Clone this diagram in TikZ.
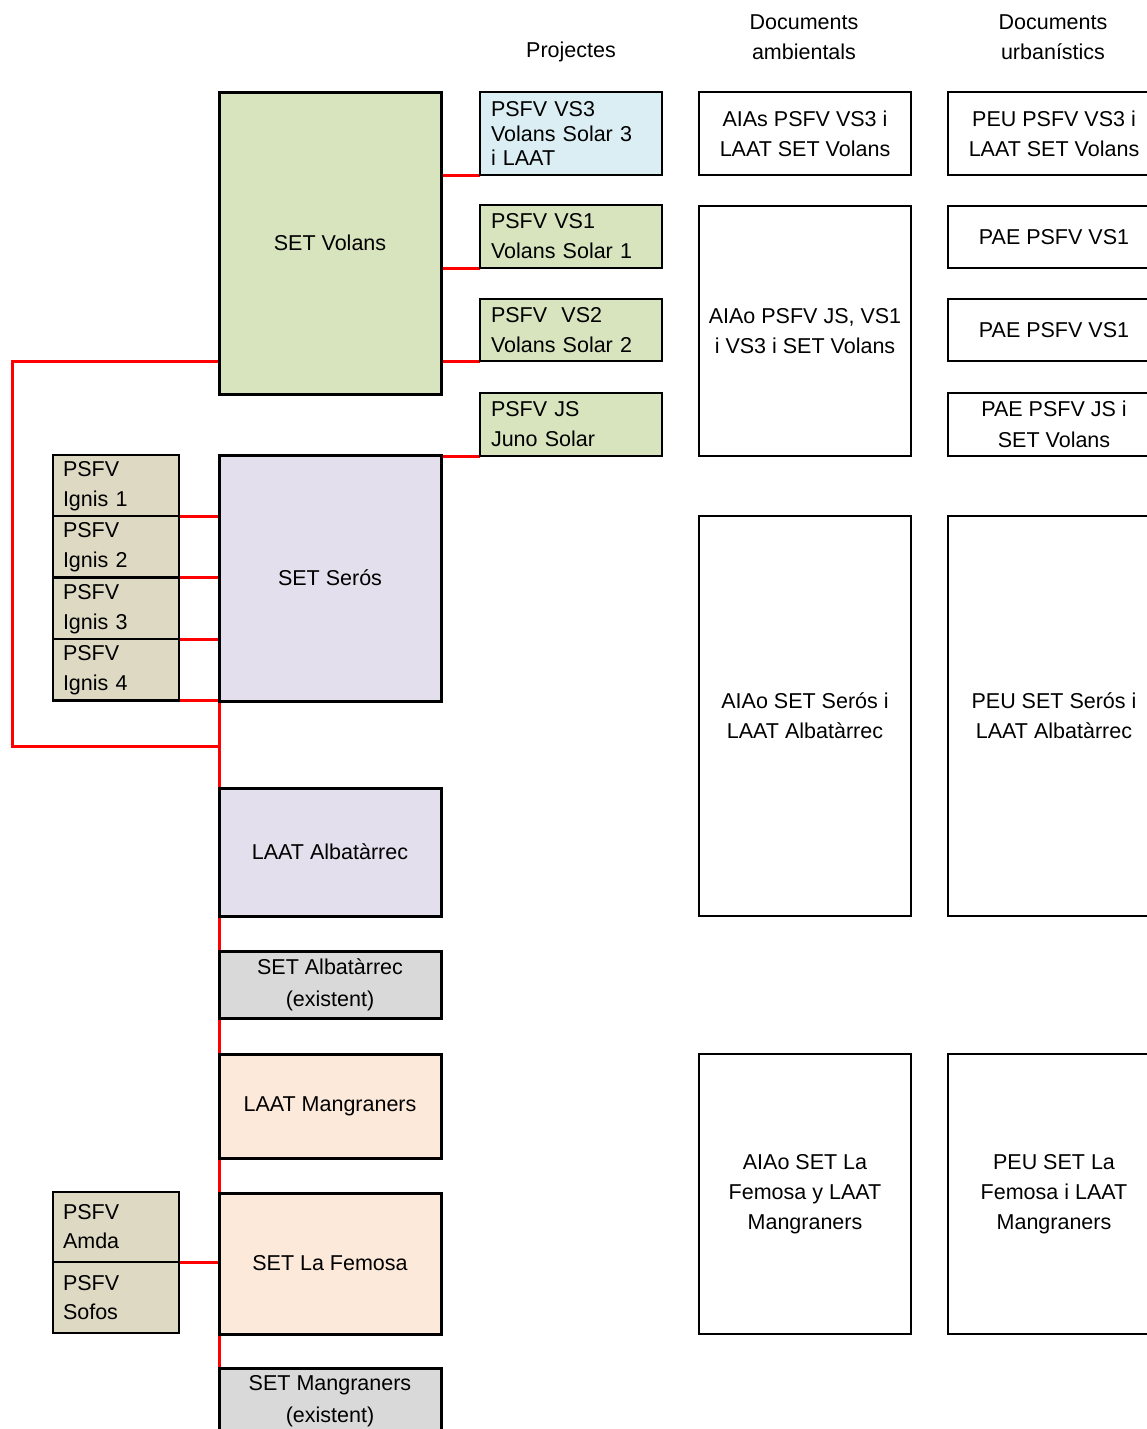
\documentclass[tikz,border=0pt]{standalone}
\usepackage{fontspec}
\setmainfont{Liberation Sans}
\usepackage{tikz}
\usetikzlibrary{positioning,backgrounds}
\definecolor{verd}{HTML}{D7E4BD}
\definecolor{blau}{HTML}{DBEEF4}
\definecolor{lila}{HTML}{E4DFEC}
\definecolor{terra}{HTML}{DDD9C3}
\definecolor{gris}{HTML}{D9D9D9}
\definecolor{preseg}{HTML}{FCE9DA}
\definecolor{vermell}{HTML}{FF0000}

\begin{document}
\begin{tikzpicture}[
    x=1pt, y=-1pt,
    caixa/.style={draw=black, line width=3pt, anchor=north west, inner sep=0pt, outer sep=0pt,
                  align=center, font=\fontsize{21.5}{30}\selectfont},
    setbox/.style={caixa, minimum width=222pt},
    proj/.style={caixa, line width=2.8pt, align=left, inner xsep=11pt, text width=160pt},
    psfv/.style={caixa, fill=terra, line width=2.4pt, align=left, inner xsep=10pt, text width=106pt},
    doc/.style={caixa, line width=2.8pt, minimum width=212pt},
    enllac/.style={draw=vermell, line width=3pt},
    titol/.style={font=\fontsize{21.5}{30}\selectfont, align=center}
]
\useasboundingbox (0,0) rectangle (1147,1429);
\clip (0,0) rectangle (1147,1429);

% capçaleres
\node[titol] (hproj) at (571,52) {Projectes};
\node[titol] (hamb) at (804,37) {Documents\\ambientals};
\node[titol] (hurb) at (1053,37) {Documents\\urbanístics};

% subestacions i línies
\node[setbox, fill=verd, minimum height=302pt] (volans) at (219,92) {SET Volans};
\node[setbox, fill=lila, minimum height=246pt] (seros) at (219,455) {SET Serós};
\node[setbox, fill=lila, minimum height=128pt] (laatalb) at (219,788) {LAAT Albatàrrec};
\node[setbox, fill=gris, minimum height=67pt, font=\fontsize{21.5}{32}\selectfont] (setalb) at (219,951) {SET Albatàrrec\\(existent)};
\node[setbox, fill=preseg, minimum height=104pt] (laatman) at (219,1054) {LAAT Mangraners};
\node[setbox, fill=preseg, minimum height=141pt] (femosa) at (219,1193) {SET La Femosa};
\node[setbox, fill=gris, minimum height=67pt, font=\fontsize{21.5}{32}\selectfont] (setman) at (219,1368) {SET Mangraners\\(existent)};

% projectes
\node[proj, fill=blau, minimum height=83pt, font=\fontsize{21.5}{24.5}\selectfont] (vs3) at (480,92) {PSFV VS3\\Volans Solar 3\\i LAAT};
\node[proj, fill=verd, minimum height=63pt] (vs1) at (480,205) {PSFV VS1\\Volans Solar 1};
\node[proj, fill=verd, minimum height=62pt] (vs2) at (480,299) {PSFV\ \ VS2\\Volans Solar 2};
\node[proj, fill=verd, minimum height=63pt] (js) at (480,393) {PSFV JS\\Juno Solar};

% plantes Ignis
\foreach \i/\y in {1/455,2/516,3/578,4/639}
    \node[psfv, minimum height=61.5pt] (ig\i) at (53,\y) {PSFV\\Ignis \i};

% plantes Amda i Sofos
\node[psfv, line width=2pt, minimum height=70pt, font=\fontsize{21.5}{29}\selectfont] (amda) at (53,1192) {PSFV\\Amda};
\node[psfv, line width=2pt, minimum height=71pt, font=\fontsize{21.5}{29}\selectfont] (sofos) at (53,1262) {PSFV\\Sofos};

% documents ambientals
\node[doc, minimum height=83pt] (aias) at (699,92) {AIAs PSFV VS3 i\\LAAT SET Volans};
\node[doc, minimum height=250pt] (aiaojs) at (699,206) {AIAo PSFV JS, VS1\\i VS3 i SET Volans};
\node[doc, minimum height=400pt] (aiaoser) at (699,516) {AIAo SET Serós i\\LAAT Albatàrrec};
\node[doc, minimum height=280pt] (aiaofem) at (699,1054) {AIAo SET La\\Femosa y LAAT\\Mangraners};

% documents urbanístics
\node[doc, minimum height=83pt] (peuvs3) at (948,92) {PEU PSFV VS3 i\\LAAT SET Volans};
\node[doc, minimum height=62pt] (paevs1) at (948,206) {PAE PSFV VS1};
\node[doc, minimum height=62pt] (paevs1b) at (948,299) {PAE PSFV VS1};
\node[doc, minimum height=63pt, font=\fontsize{21.5}{31}\selectfont] (paejs) at (948,393) {PAE PSFV JS i\\SET Volans};
\node[doc, minimum height=400pt] (peuser) at (948,516) {PEU SET Serós i\\LAAT Albatàrrec};
\node[doc, minimum height=280pt] (peufem) at (948,1054) {PEU SET La\\Femosa i LAAT\\Mangraners};

% connexions
\coordinate (retornA) at (12,361);
\coordinate (retornB) at (12,746);
\begin{scope}[on background layer]
\foreach \p in {vs3,vs1,vs2,js}
    \draw[enllac] (\p.south west) -- (\p.south west -| volans.east);
\foreach \i in {1,...,4}
    \draw[enllac] (ig\i.south east) -- (ig\i.south east -| seros.west);
\draw[enllac] (amda.south east) -- (amda.south east -| femosa.west);
\draw[enllac] (volans.west |- retornA) -- (retornA) -- (retornB) -- (retornB -| seros.west);
\draw[enllac] (seros.south west) -- (laatalb.north west);
\draw[enllac] (laatalb.south west) -- (setalb.north west);
\draw[enllac] (setalb.south west) -- (laatman.north west);
\draw[enllac] (laatman.south west) -- (femosa.north west);
\draw[enllac] (femosa.south west) -- (setman.north west);
\end{scope}

\end{tikzpicture}
\end{document}
